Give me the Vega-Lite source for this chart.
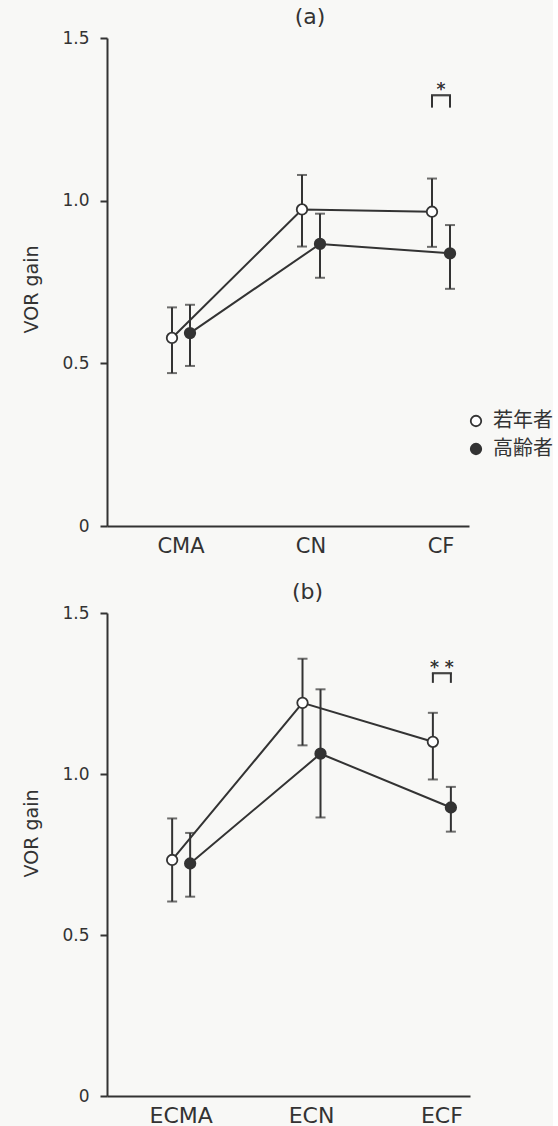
{
  "$schema": "https://vega.github.io/schema/vega-lite/v6.json",
  "background": "#f8f8f6",
  "padding": {"left": 22, "top": 6, "right": 0, "bottom": 0},
  "spacing": 25,
  "config": {
    "view": {"stroke": null},
    "font": "DejaVu Sans",
    "axis": {"domainColor": "#333333", "domainWidth": 2, "tickColor": "#333333", "tickWidth": 2, "labelColor": "#333333", "titleColor": "#333333", "grid": false, "labelFont": "DejaVu Sans", "titleFont": "DejaVu Sans", "titleFontWeight": "normal"},
    "title": {"font": "DejaVu Sans", "fontWeight": "normal", "color": "#333333", "fontSize": 22}
  },
  "datasets": {
    "a": [
      {"cond": "CMA", "group": "若年者", "mean": 0.578, "lo": 0.470, "hi": 0.672},
      {"cond": "CMA", "group": "高齢者", "mean": 0.593, "lo": 0.492, "hi": 0.680},
      {"cond": "CN", "group": "若年者", "mean": 0.973, "lo": 0.859, "hi": 1.079},
      {"cond": "CN", "group": "高齢者", "mean": 0.867, "lo": 0.763, "hi": 0.960},
      {"cond": "CF", "group": "若年者", "mean": 0.966, "lo": 0.858, "hi": 1.068},
      {"cond": "CF", "group": "高齢者", "mean": 0.838, "lo": 0.729, "hi": 0.925}
    ],
    "b": [
      {"cond": "ECMA", "group": "若年者", "mean": 0.733, "lo": 0.604, "hi": 0.862},
      {"cond": "ECMA", "group": "高齢者", "mean": 0.722, "lo": 0.619, "hi": 0.817},
      {"cond": "ECN", "group": "若年者", "mean": 1.221, "lo": 1.089, "hi": 1.358},
      {"cond": "ECN", "group": "高齢者", "mean": 1.063, "lo": 0.865, "hi": 1.263},
      {"cond": "ECF", "group": "若年者", "mean": 1.100, "lo": 0.983, "hi": 1.190},
      {"cond": "ECF", "group": "高齢者", "mean": 0.896, "lo": 0.821, "hi": 0.960}
    ],
    "sigA": [
      {"cond": "CF", "group": "若年者", "lo": 1.286, "hi": 1.324, "label": "*", "ys": 1.326},
      {"cond": "CF", "group": "高齢者", "lo": 1.286, "hi": 1.324, "label": "*", "ys": 1.326}
    ],
    "sigB": [
      {"cond": "ECF", "group": "若年者", "lo": 1.283, "hi": 1.313, "label": "* *", "ys": 1.314},
      {"cond": "ECF", "group": "高齢者", "lo": 1.283, "hi": 1.313, "label": "* *", "ys": 1.314}
    ]
  },
  "resolve": {"scale": {"fill": "independent"}, "legend": {"fill": "independent"}},
  "vconcat": [
    {
      "width": 362,
      "height": 488,
      "title": {"text": "(a)", "dx": 22, "offset": 0},
      "layer": [
        {
          "data": {"name": "a"},
          "mark": {"type": "rule", "color": "#333333", "strokeWidth": 2},
          "encoding": {
            "x": {"field": "cond", "type": "nominal", "sort": ["CMA", "CN", "CF"], "scale": {"type": "band", "domain": ["CMA", "CN", "CF"], "paddingInner": 0.72308, "paddingOuter": 0.2538, "align": 0.8485},
              "axis": {"title": null, "ticks": false, "labelAngle": 0, "labelFontSize": 21, "labelPadding": 9}},
            "xOffset": {"field": "group", "type": "nominal", "sort": ["若年者", "高齢者"]},
            "y": {"field": "lo", "type": "quantitative", "scale": {"domain": [0, 1.5], "nice": false},
              "axis": {"title": "VOR gain", "titleY": 251, "values": [0, 0.5, 1, 1.5], "labelExpr": "datum.value == 0 ? '0' : format(datum.value, '.1f')", "labelFontSize": 17, "tickSize": 7, "labelPadding": 11, "titleFontSize": 19, "titlePadding": 20}},
            "y2": {"field": "hi"}
          }
        },
        {
          "data": {"name": "a"},
          "mark": {"type": "tick", "color": "#333333", "thickness": 2, "size": 10},
          "encoding": {
            "x": {"field": "cond", "type": "nominal", "sort": ["CMA", "CN", "CF"]},
            "xOffset": {"field": "group", "type": "nominal", "sort": ["若年者", "高齢者"]},
            "y": {"field": "lo", "type": "quantitative"}
          }
        },
        {
          "data": {"name": "a"},
          "mark": {"type": "tick", "color": "#333333", "thickness": 2, "size": 10},
          "encoding": {
            "x": {"field": "cond", "type": "nominal", "sort": ["CMA", "CN", "CF"]},
            "xOffset": {"field": "group", "type": "nominal", "sort": ["若年者", "高齢者"]},
            "y": {"field": "hi", "type": "quantitative"}
          }
        },
        {
          "data": {"name": "a"},
          "mark": {"type": "line", "color": "#333333", "strokeWidth": 2},
          "encoding": {
            "x": {"field": "cond", "type": "nominal", "sort": ["CMA", "CN", "CF"]},
            "xOffset": {"field": "group", "type": "nominal", "sort": ["若年者", "高齢者"]},
            "y": {"field": "mean", "type": "quantitative"},
            "detail": {"field": "group"},
            "order": {"value": null}
          }
        },
        {
          "data": {"name": "a"},
          "mark": {"type": "point", "filled": true, "opacity": 1, "stroke": "#333333", "strokeWidth": 1.8, "size": 110, "shape": "circle"},
          "encoding": {
            "x": {"field": "cond", "type": "nominal", "sort": ["CMA", "CN", "CF"]},
            "xOffset": {"field": "group", "type": "nominal", "sort": ["若年者", "高齢者"]},
            "y": {"field": "mean", "type": "quantitative"},
            "fill": {"field": "group", "type": "nominal", "sort": ["若年者", "高齢者"], "scale": {"domain": ["若年者", "高齢者"], "range": ["#ffffff", "#333333"]},
              "legend": {"title": null, "orient": "none", "legendX": 359, "legendY": 373, "labelFont": "Noto Sans CJK JP", "labelFontSize": 20, "labelColor": "#333333", "symbolType": "circle", "symbolSize": 110, "symbolStrokeColor": "#333333", "symbolStrokeWidth": 1.8, "rowPadding": 8, "labelOffset": 7}}
          }
        },
        {
          "data": {"name": "sigA"},
          "mark": {"type": "rule", "color": "#333333", "strokeWidth": 2},
          "encoding": {
            "x": {"field": "cond", "type": "nominal", "sort": ["CMA", "CN", "CF"]},
            "xOffset": {"field": "group", "type": "nominal", "sort": ["若年者", "高齢者"]},
            "y": {"field": "lo", "type": "quantitative"},
            "y2": {"field": "hi"}
          }
        },
        {
          "data": {"name": "sigA"},
          "mark": {"type": "tick", "color": "#333333", "thickness": 2, "size": 20},
          "encoding": {
            "x": {"field": "cond", "type": "nominal", "sort": ["CMA", "CN", "CF"]},
            "y": {"field": "hi", "type": "quantitative"}
          }
        },
        {
          "data": {"name": "sigA"},
          "mark": {"type": "text", "color": "#333333", "fontSize": 18, "baseline": "alphabetic", "font": "DejaVu Sans"},
          "encoding": {
            "x": {"field": "cond", "type": "nominal", "sort": ["CMA", "CN", "CF"]},
            "y": {"field": "ys", "type": "quantitative"},
            "text": {"field": "label"}
          }
        }
      ]
    },
    {
      "width": 363,
      "height": 483,
      "title": {"text": "(b)", "dx": 19, "offset": 0},
      "layer": [
        {
          "data": {"name": "b"},
          "mark": {"type": "rule", "color": "#333333", "strokeWidth": 2},
          "encoding": {
            "x": {"field": "cond", "type": "nominal", "sort": ["ECMA", "ECN", "ECF"], "scale": {"type": "band", "domain": ["ECMA", "ECN", "ECF"], "paddingInner": 0.72308, "paddingOuter": 0.2538, "align": 0.8485},
              "axis": {"title": null, "ticks": false, "labelAngle": 0, "labelFontSize": 22, "labelPadding": 9}},
            "xOffset": {"field": "group", "type": "nominal", "sort": ["若年者", "高齢者"]},
            "y": {"field": "lo", "type": "quantitative", "scale": {"domain": [0, 1.5], "nice": false},
              "axis": {"title": "VOR gain", "titleY": 220, "values": [0, 0.5, 1, 1.5], "labelExpr": "datum.value == 0 ? '0' : format(datum.value, '.1f')", "labelFontSize": 17, "tickSize": 7, "labelPadding": 11, "titleFontSize": 19, "titlePadding": 20}},
            "y2": {"field": "hi"}
          }
        },
        {
          "data": {"name": "b"},
          "mark": {"type": "tick", "color": "#333333", "thickness": 2, "size": 10},
          "encoding": {
            "x": {"field": "cond", "type": "nominal", "sort": ["ECMA", "ECN", "ECF"]},
            "xOffset": {"field": "group", "type": "nominal", "sort": ["若年者", "高齢者"]},
            "y": {"field": "lo", "type": "quantitative"}
          }
        },
        {
          "data": {"name": "b"},
          "mark": {"type": "tick", "color": "#333333", "thickness": 2, "size": 10},
          "encoding": {
            "x": {"field": "cond", "type": "nominal", "sort": ["ECMA", "ECN", "ECF"]},
            "xOffset": {"field": "group", "type": "nominal", "sort": ["若年者", "高齢者"]},
            "y": {"field": "hi", "type": "quantitative"}
          }
        },
        {
          "data": {"name": "b"},
          "mark": {"type": "line", "color": "#333333", "strokeWidth": 2},
          "encoding": {
            "x": {"field": "cond", "type": "nominal", "sort": ["ECMA", "ECN", "ECF"]},
            "xOffset": {"field": "group", "type": "nominal", "sort": ["若年者", "高齢者"]},
            "y": {"field": "mean", "type": "quantitative"},
            "detail": {"field": "group"},
            "order": {"value": null}
          }
        },
        {
          "data": {"name": "b"},
          "mark": {"type": "point", "filled": true, "opacity": 1, "stroke": "#333333", "strokeWidth": 1.8, "size": 110, "shape": "circle"},
          "encoding": {
            "x": {"field": "cond", "type": "nominal", "sort": ["ECMA", "ECN", "ECF"]},
            "xOffset": {"field": "group", "type": "nominal", "sort": ["若年者", "高齢者"]},
            "y": {"field": "mean", "type": "quantitative"},
            "fill": {"field": "group", "type": "nominal", "scale": {"domain": ["若年者", "高齢者"], "range": ["#ffffff", "#333333"]}, "legend": null}
          }
        },
        {
          "data": {"name": "sigB"},
          "mark": {"type": "rule", "color": "#333333", "strokeWidth": 2},
          "encoding": {
            "x": {"field": "cond", "type": "nominal", "sort": ["ECMA", "ECN", "ECF"]},
            "xOffset": {"field": "group", "type": "nominal", "sort": ["若年者", "高齢者"]},
            "y": {"field": "lo", "type": "quantitative"},
            "y2": {"field": "hi"}
          }
        },
        {
          "data": {"name": "sigB"},
          "mark": {"type": "tick", "color": "#333333", "thickness": 2, "size": 20},
          "encoding": {
            "x": {"field": "cond", "type": "nominal", "sort": ["ECMA", "ECN", "ECF"]},
            "y": {"field": "hi", "type": "quantitative"}
          }
        },
        {
          "data": {"name": "sigB"},
          "mark": {"type": "text", "color": "#333333", "fontSize": 18, "baseline": "alphabetic", "font": "DejaVu Sans"},
          "encoding": {
            "x": {"field": "cond", "type": "nominal", "sort": ["ECMA", "ECN", "ECF"]},
            "y": {"field": "ys", "type": "quantitative"},
            "text": {"field": "label"}
          }
        }
      ]
    }
  ]
}
